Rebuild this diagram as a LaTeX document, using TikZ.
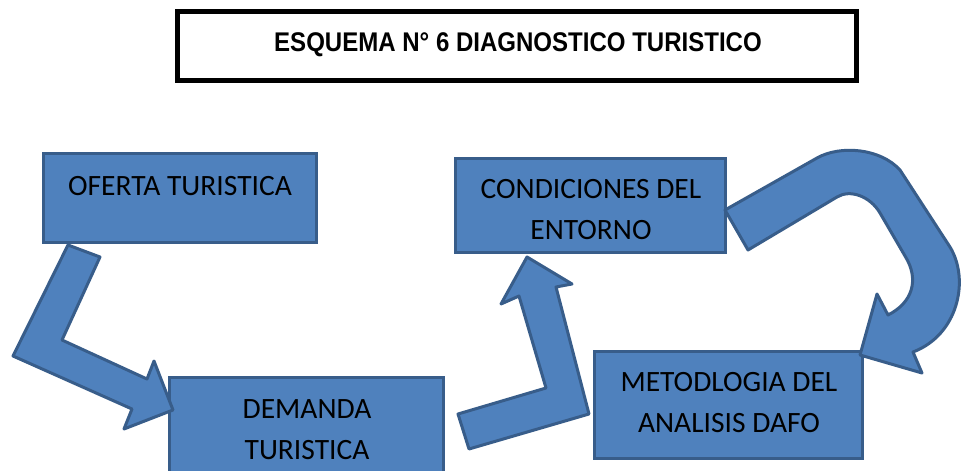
\documentclass[tikz,border=0pt]{standalone}
\usepackage{fontspec}
\setmainfont{Carlito}
\newfontfamily\titlefont[FakeStretch=0.89]{Liberation Sans}
\usepackage{tikz}

\definecolor{boxblue}{HTML}{4F81BD}
\definecolor{boxline}{HTML}{385D8A}

\tikzset{
  blockbox/.style={rectangle,draw=boxline,fill=boxblue,line width=3pt,inner sep=0pt},
  blockarrow/.style={draw=boxline,fill=boxblue,line width=3pt,line join=round},
  boxtext/.style={font=\fontsize{29.5}{41}\selectfont,align=center,inner sep=0pt,anchor=base},
}

\begin{document}
\begin{tikzpicture}[x=1pt,y=-1pt]

      \useasboundingbox (0,0) rectangle (969,471);

      \node[draw=black,line width=5pt,minimum width=679pt,minimum height=69pt,inner sep=0pt] (titulo) at (517,46){};
      \node[inner sep=0pt,anchor=base,font=\titlefont\bfseries\fontsize{27}{30}\selectfont] (titulotxt) at (518,51){ESQUEMA N° 6 DIAGNOSTICO TURISTICO};

      \node[blockbox,minimum width=273pt,minimum height=89pt] (oferta) at (180,198){};
      \node[blockbox,minimum width=274pt,minimum height=107pt] (demanda) at (306.5,431){};
      \node[blockbox,minimum width=270pt,minimum height=94pt] (entorno) at (590.5,205.5){};
      \node[blockbox,minimum width=268pt,minimum height=107pt] (dafo) at (728.5,405){};

      % base = last line
      \node[boxtext] (ofertatxt) at (180,195){OFERTA TURISTICA};
      \node[boxtext] (demandatxt) at (307,459){DEMANDA\\TURISTICA};
      \node[boxtext] (entornotxt) at (591,239){CONDICIONES DEL\\ENTORNO};
      \node[boxtext] (dafotxt) at (729,432){METODLOGIA DEL\\ANALISIS DAFO};

      % bent arrow oferta -> demanda
      \draw[blockarrow] (68,245) -- (100,257) -- (62,340) -- (147,379) -- (154,361)
        -- (173,410) -- (124,429) -- (132,409) -- (13,356) -- cycle;

      % bent arrow demanda -> entorno
      \draw[blockarrow] (458,414) -- (469,449) -- (589,414) -- (556,287) -- (572,284)
        -- (527,257) -- (501,304) -- (519,296) -- (546,388) -- cycle;

      % curved arrow entorno -> dafo
      \draw[blockarrow] (725,210) -- (817,158) .. controls (840,145) and (880,148) .. (900,170)
        -- (950,247) .. controls (970,280) and (958,335) .. (913,352) -- (922,373)
        -- (860,355) -- (877,294) -- (888,315) .. controls (912,303) and (920,280) .. (905,256)
        -- (880,213) .. controls (870,196) and (850,189) .. (837,197) -- (748,250) -- cycle;

\end{tikzpicture}
\end{document}
